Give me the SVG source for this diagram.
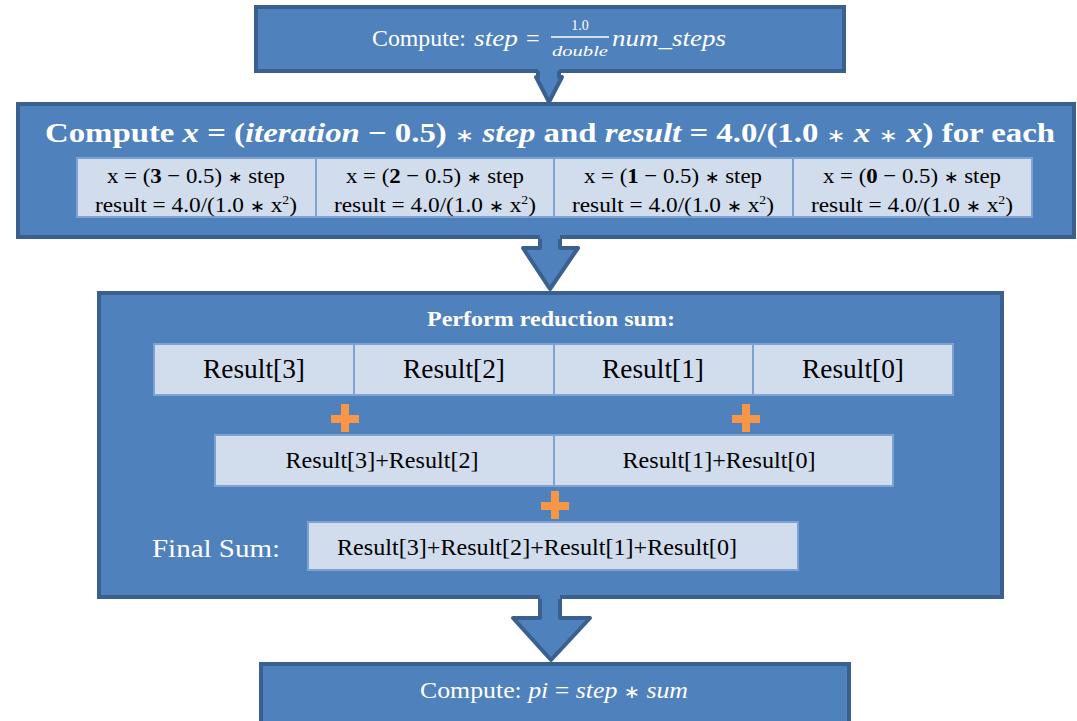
<svg xmlns="http://www.w3.org/2000/svg" width="1077" height="721" viewBox="0 0 1077 721">
<style>
.box{fill:#4f81bd;stroke:#3a6090;stroke-width:4}
.cell{fill:#d1dcec;stroke:#7ea3d3;stroke-width:2}
.afill{fill:#4f81bd;stroke:none}
.aline{fill:none;stroke:#3a6090;stroke-width:4;stroke-linejoin:round}
.w{fill:#ffffff;font-family:"Liberation Serif",serif}
.k{fill:#000000;font-family:"Liberation Serif",serif}
.i{font-style:italic}
.b{font-weight:bold}
.op{font-family:"DejaVu Sans",sans-serif;font-weight:normal;font-style:normal}
.plus{fill:#f79646}
</style>
<rect width="1077" height="721" fill="#ffffff"/>

<g id="node-step">
<rect class="box" x="256" y="7" width="588" height="64"/>
<text class="w" x="372" y="46" font-size="24" textLength="94" lengthAdjust="spacingAndGlyphs">Compute:</text>
<text class="w i" x="474" y="46" font-size="24" textLength="44" lengthAdjust="spacingAndGlyphs">step</text>
<text class="w" x="526" y="46" font-size="24">=</text>
<text class="w" x="580" y="30" font-size="14" text-anchor="middle">1.0</text>
<line x1="551" y1="37" x2="609" y2="37" stroke="#ffffff" stroke-width="1.3"/>
<text class="w i" x="580" y="56" font-size="15" text-anchor="middle" textLength="56" lengthAdjust="spacingAndGlyphs">double</text>
<text class="w i" x="612" y="46" font-size="24" textLength="114" lengthAdjust="spacingAndGlyphs">num_steps</text>
</g>

<g id="node-compute">
<rect class="box" x="18" y="104" width="1056" height="133"/>
<text class="w b" x="45" y="142" font-size="27" textLength="1010" lengthAdjust="spacingAndGlyphs">Compute <tspan class="i">x</tspan> = (<tspan class="i">iteration</tspan> − 0.5) <tspan class="op" font-size="19">∗</tspan> <tspan class="i">step</tspan> and <tspan class="i">result</tspan> = 4.0/(1.0 <tspan class="op" font-size="19">∗</tspan> <tspan class="i">x</tspan> <tspan class="op" font-size="19">∗</tspan> <tspan class="i">x</tspan>) for each</text>
<g id="cells-x">
<rect class="cell" x="77" y="158" width="239" height="59"/>
<rect class="cell" x="316" y="158" width="238" height="59"/>
<rect class="cell" x="554" y="158" width="239" height="59"/>
<rect class="cell" x="793" y="158" width="239" height="59"/>
<text class="k" x="196" y="183" font-size="22" text-anchor="middle" textLength="178" lengthAdjust="spacingAndGlyphs">x = (<tspan class="b">3</tspan> − 0.5) <tspan class="op" font-size="17">∗</tspan> step</text>
<text class="k" x="435" y="183" font-size="22" text-anchor="middle" textLength="178" lengthAdjust="spacingAndGlyphs">x = (<tspan class="b">2</tspan> − 0.5) <tspan class="op" font-size="17">∗</tspan> step</text>
<text class="k" x="673" y="183" font-size="22" text-anchor="middle" textLength="178" lengthAdjust="spacingAndGlyphs">x = (<tspan class="b">1</tspan> − 0.5) <tspan class="op" font-size="17">∗</tspan> step</text>
<text class="k" x="912" y="183" font-size="22" text-anchor="middle" textLength="178" lengthAdjust="spacingAndGlyphs">x = (<tspan class="b">0</tspan> − 0.5) <tspan class="op" font-size="17">∗</tspan> step</text>
<text class="k" x="196" y="212" font-size="22" text-anchor="middle" textLength="202" lengthAdjust="spacingAndGlyphs">result = 4.0/(1.0 <tspan class="op" font-size="17">∗</tspan> x<tspan font-size="13" dy="-8">2</tspan><tspan dy="8">)</tspan></text>
<text class="k" x="435" y="212" font-size="22" text-anchor="middle" textLength="202" lengthAdjust="spacingAndGlyphs">result = 4.0/(1.0 <tspan class="op" font-size="17">∗</tspan> x<tspan font-size="13" dy="-8">2</tspan><tspan dy="8">)</tspan></text>
<text class="k" x="673" y="212" font-size="22" text-anchor="middle" textLength="202" lengthAdjust="spacingAndGlyphs">result = 4.0/(1.0 <tspan class="op" font-size="17">∗</tspan> x<tspan font-size="13" dy="-8">2</tspan><tspan dy="8">)</tspan></text>
<text class="k" x="912" y="212" font-size="22" text-anchor="middle" textLength="202" lengthAdjust="spacingAndGlyphs">result = 4.0/(1.0 <tspan class="op" font-size="17">∗</tspan> x<tspan font-size="13" dy="-8">2</tspan><tspan dy="8">)</tspan></text>
</g>
</g>

<g id="node-reduction">
<rect class="box" x="99" y="293" width="903" height="304"/>
<text class="w b" x="551" y="326" font-size="21" text-anchor="middle" textLength="248" lengthAdjust="spacingAndGlyphs">Perform reduction sum:</text>
<rect class="cell" x="154" y="344" width="200" height="51"/>
<rect class="cell" x="354" y="344" width="200" height="51"/>
<rect class="cell" x="554" y="344" width="199" height="51"/>
<rect class="cell" x="753" y="344" width="200" height="51"/>
<text class="k" x="254" y="378" font-size="27" text-anchor="middle" textLength="102" lengthAdjust="spacingAndGlyphs">Result[3]</text>
<text class="k" x="454" y="378" font-size="27" text-anchor="middle" textLength="102" lengthAdjust="spacingAndGlyphs">Result[2]</text>
<text class="k" x="653" y="378" font-size="27" text-anchor="middle" textLength="102" lengthAdjust="spacingAndGlyphs">Result[1]</text>
<text class="k" x="853" y="378" font-size="27" text-anchor="middle" textLength="102" lengthAdjust="spacingAndGlyphs">Result[0]</text>
<g id="plus-1"><rect class="plus" x="331" y="415" width="28" height="8"/><rect class="plus" x="341" y="404" width="8" height="28"/></g>
<g id="plus-2"><rect class="plus" x="732" y="415" width="28" height="8"/><rect class="plus" x="742" y="404" width="8" height="28"/></g>
<rect class="cell" x="215" y="435" width="339" height="51"/>
<rect class="cell" x="554" y="435" width="339" height="51"/>
<text class="k" x="382" y="468" font-size="23" text-anchor="middle" textLength="193" lengthAdjust="spacingAndGlyphs">Result[3]+Result[2]</text>
<text class="k" x="719" y="468" font-size="23" text-anchor="middle" textLength="193" lengthAdjust="spacingAndGlyphs">Result[1]+Result[0]</text>
<g id="plus-3"><rect class="plus" x="541" y="502" width="28" height="8"/><rect class="plus" x="551" y="491" width="8" height="28"/></g>
<text class="w" x="152" y="557" font-size="26" textLength="128" lengthAdjust="spacingAndGlyphs">Final Sum:</text>
<rect class="cell" x="308" y="522" width="490" height="48"/>
<text class="k" x="337" y="555" font-size="23" textLength="400" lengthAdjust="spacingAndGlyphs">Result[3]+Result[2]+Result[1]+Result[0]</text>
</g>

<g id="node-pi">
<rect class="box" x="261" y="664" width="588" height="70"/>
<text class="w" x="420" y="698" font-size="24" textLength="268" lengthAdjust="spacingAndGlyphs">Compute: <tspan class="i">pi</tspan> = <tspan class="i">step</tspan> <tspan class="op" font-size="18">∗</tspan> <tspan class="i">sum</tspan></text>
</g>

<g id="connectors">
<g id="arrow-1">
<polygon class="afill" points="538,66 559,66 559,77 562,77 549,102 536,77 538,77"/>
<polyline class="aline" points="538,71 538,77 536,77 549,102 562,77 559,77 559,71"/>
</g>
<g id="arrow-2">
<polygon class="afill" points="540,233 560,233 560,248 578,248 550,289 523,248 540,248"/>
<polyline class="aline" points="540,239 540,248 523,248 550,289 578,248 560,248 560,239"/>
</g>
<g id="arrow-3">
<polygon class="afill" points="540,593 560,593 560,618 590,618 551,660 513,618 540,618"/>
<polyline class="aline" points="540,599 540,618 513,618 551,660 590,618 560,618 560,599"/>
</g>
</g>
</svg>
